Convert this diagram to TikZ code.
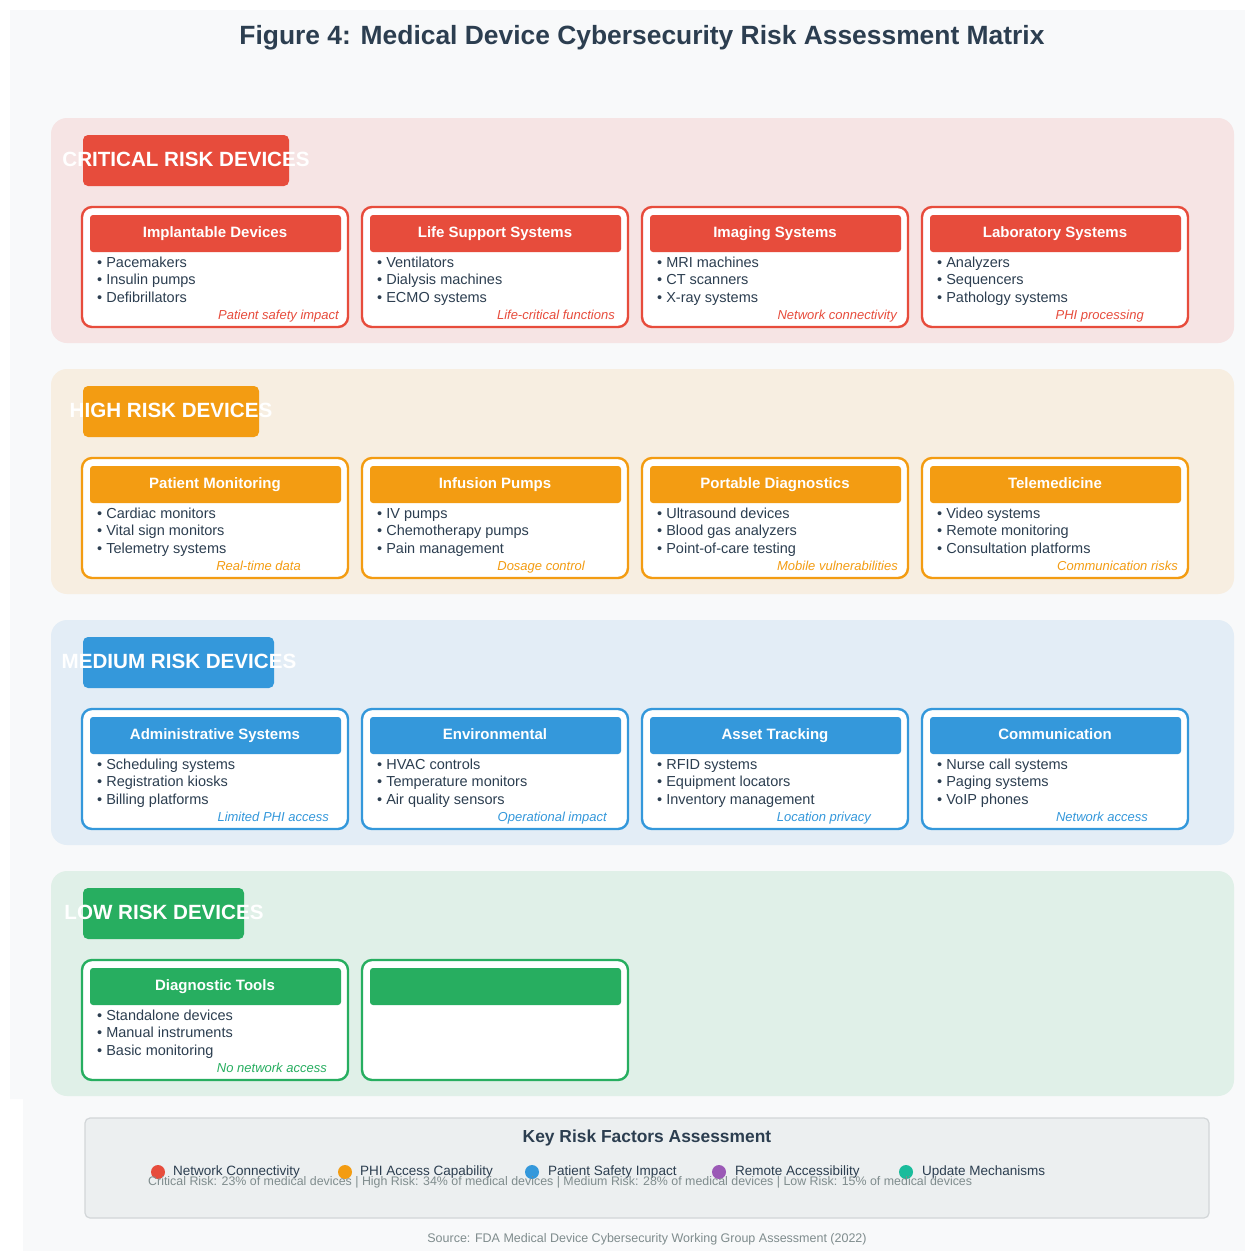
\documentclass[tikz,border=0pt]{standalone}
\usepackage{fontspec}
\setmainfont{Liberation Sans}
\definecolor{ink}{HTML}{2C3E50}
\definecolor{muted}{HTML}{7F8C8D}
\definecolor{crit}{HTML}{E74C3C}
\definecolor{high}{HTML}{F39C12}
\definecolor{med}{HTML}{3498DB}
\definecolor{low}{HTML}{27AE60}
\definecolor{purp}{HTML}{9B59B6}
\definecolor{teal}{HTML}{1ABC9C}
\definecolor{page}{HTML}{F8F9FA}
\definecolor{critbg}{HTML}{F6E4E4}
\definecolor{highbg}{HTML}{F7EEE1}
\definecolor{medbg}{HTML}{E3EDF6}
\definecolor{lowbg}{HTML}{E0F0E8}
\definecolor{keybg}{HTML}{ECEFF0}
\definecolor{keyline}{HTML}{D2D6D8}

\tikzset{
  band/.style={rounded corners=16pt, draw=none},
  tagbox/.style={rounded corners=5pt, draw=none},
  tagtext/.style={text=white, font=\fontsize{20.6}{24}\selectfont\bfseries, inner sep=0pt},
  cardbox/.style={fill=white, line width=2.4pt, rounded corners=10pt},
  cardhead/.style={rounded corners=3pt, draw=none},
  cardtitle/.style={text=white, font=\fontsize{15}{18}\selectfont\bfseries, inner sep=0pt,
    text height=11pt, text depth=3pt},
  item/.style={text=ink, anchor=west, inner sep=0pt, text height=10pt, text depth=3pt,
    font=\fontsize{14.5}{17}\selectfont},
  foot/.style={anchor=east, inner sep=0pt, text height=9pt, text depth=3pt,
    font=\fontsize{13}{15}\selectfont\itshape},
  keydot/.style={circle, inner sep=0pt, minimum size=14pt},
  keytext/.style={text=ink, anchor=west, inner sep=0pt, font=\fontsize{13.5}{16}\selectfont},
}

% #1 name, #2 left x, #3 top y, #4 colour, #5 title,
% #6-#8 bullet items, #9 footnote|right offset
\newcommand\devcard[9]{%
  \draw[cardbox, draw=#4] (#2,#3) rectangle ++(266,120);
  \fill[cardhead, fill=#4] (#2+8,#3+8) rectangle ++(251,37);
  \node[cardtitle] (#1t) at (#2+133,#3+26.5) {#5};
  \node[item] (#1a) at (#2+15,#3+56.5) {• #6};
  \node[item] (#1b) at (#2+15,#3+74) {• #7};
  \node[item] (#1c) at (#2+15,#3+92) {• #8};
  \devfoot{#1}{#2}{#3}{#4}#9\relax}
\def\devfoot#1#2#3#4#5|#6\relax{%
  \node[foot, text=#4] (#1f) at (#2+#6,#3+109.5) {#5};}

\begin{document}
\begin{tikzpicture}[x=1pt, y=-1pt]
\useasboundingbox (0,0) rectangle (1245,1251);
% page background
\fill[white] (0,0) rectangle (1245,1251);
\fill[page] (10,10) -- (1245,10) -- (1245,1251) -- (23,1251) -- (23,1099) -- (10,1099) -- cycle;

\node[text=ink, font=\fontsize{26.4}{31}\selectfont\bfseries, inner sep=0pt] (title) at (642,37.5)
  {Figure 4: Medical Device Cybersecurity Risk Assessment Matrix};

% ---- critical ----
\fill[band, fill=critbg] (51,118) rectangle (1234,343);
\fill[tagbox, fill=crit] (83,135) rectangle (289,186);
\node[tagtext] (critlabel) at (186,159.5) {CRITICAL RISK DEVICES};
\devcard{ca}{82}{207}{crit}{Implantable Devices}{Pacemakers}{Insulin pumps}{Defibrillators}{Patient safety impact|257}
\devcard{cb}{362}{207}{crit}{Life Support Systems}{Ventilators}{Dialysis machines}{ECMO systems}{Life-critical functions|253}
\devcard{cc}{642}{207}{crit}{Imaging Systems}{MRI machines}{CT scanners}{X-ray systems}{Network connectivity|255}
\devcard{cd}{922}{207}{crit}{Laboratory Systems}{Analyzers}{Sequencers}{Pathology systems}{PHI processing|222}

% ---- high ----
\fill[band, fill=highbg] (51,369) rectangle (1234,594);
\fill[tagbox, fill=high] (83,386) rectangle (259,437);
\node[tagtext] (highlabel) at (171,410.5) {HIGH RISK DEVICES};
\devcard{ha}{82}{458}{high}{Patient Monitoring}{Cardiac monitors}{Vital sign monitors}{Telemetry systems}{Real-time data|219}
\devcard{hb}{362}{458}{high}{Infusion Pumps}{IV pumps}{Chemotherapy pumps}{Pain management}{Dosage control|223}
\devcard{hc}{642}{458}{high}{Portable Diagnostics}{Ultrasound devices}{Blood gas analyzers}{Point-of-care testing}{Mobile vulnerabilities|256}
\devcard{hd}{922}{458}{high}{Telemedicine}{Video systems}{Remote monitoring}{Consultation platforms}{Communication risks|256}

% ---- medium ----
\fill[band, fill=medbg] (51,620) rectangle (1234,845);
\fill[tagbox, fill=med] (83,637) rectangle (274,688);
\node[tagtext] (medlabel) at (179,661.5) {MEDIUM RISK DEVICES};
\devcard{ma}{82}{709}{med}{Administrative Systems}{Scheduling systems}{Registration kiosks}{Billing platforms}{Limited PHI access|247}
\devcard{mb}{362}{709}{med}{Environmental}{HVAC controls}{Temperature monitors}{Air quality sensors}{Operational impact|245}
\devcard{mc}{642}{709}{med}{Asset Tracking}{RFID systems}{Equipment locators}{Inventory management}{Location privacy|229}
\devcard{md}{922}{709}{med}{Communication}{Nurse call systems}{Paging systems}{VoIP phones}{Network access|226}

% ---- low ----
\fill[band, fill=lowbg] (51,871) rectangle (1234,1096);
\fill[tagbox, fill=low] (83,888) rectangle (244,939);
\node[tagtext] (lowlabel) at (164,912.5) {LOW RISK DEVICES};
\devcard{la}{82}{960}{low}{Diagnostic Tools}{Standalone devices}{Manual instruments}{Basic monitoring}{No network access|245}
% empty second card
\draw[cardbox, draw=low] (362,960) rectangle ++(266,120);
\fill[cardhead, fill=low] (370,968) rectangle ++(251,37);

% ---- key risk factors ----
\draw[fill=keybg, draw=keyline, line width=1.2pt, rounded corners=5pt] (85,1118) rectangle (1209,1218);
\node[text=ink, font=\fontsize{17.4}{20}\selectfont\bfseries, inner sep=0pt] (keytitle) at (647,1137.5) {Key Risk Factors Assessment};
\node[keydot, fill=crit] (d1) at (158,1172) {};
\node[keytext] (k1) at (173,1172) {Network Connectivity};
\node[keydot, fill=high] (d2) at (345,1172) {};
\node[keytext] (k2) at (360,1172) {PHI Access Capability};
\node[keydot, fill=med] (d3) at (532,1172) {};
\node[keytext] (k3) at (548,1172) {Patient Safety Impact};
\node[keydot, fill=purp] (d4) at (719,1172) {};
\node[keytext] (k4) at (735,1172) {Remote Accessibility};
\node[keydot, fill=teal] (d5) at (906,1172) {};
\node[keytext] (k5) at (922,1172) {Update Mechanisms};
\node[text=muted, anchor=west, inner sep=0pt, font=\fontsize{12.4}{15}\selectfont] (stats) at (148,1182.5)
  {Critical Risk: 23\% of medical devices | High Risk: 34\% of medical devices | Medium Risk: 28\% of medical devices | Low Risk: 15\% of medical devices};

\node[text=muted, inner sep=0pt, font=\fontsize{12.5}{15}\selectfont] (source) at (647,1239)
  {Source: FDA Medical Device Cybersecurity Working Group Assessment (2022)};
\end{tikzpicture}
\end{document}
